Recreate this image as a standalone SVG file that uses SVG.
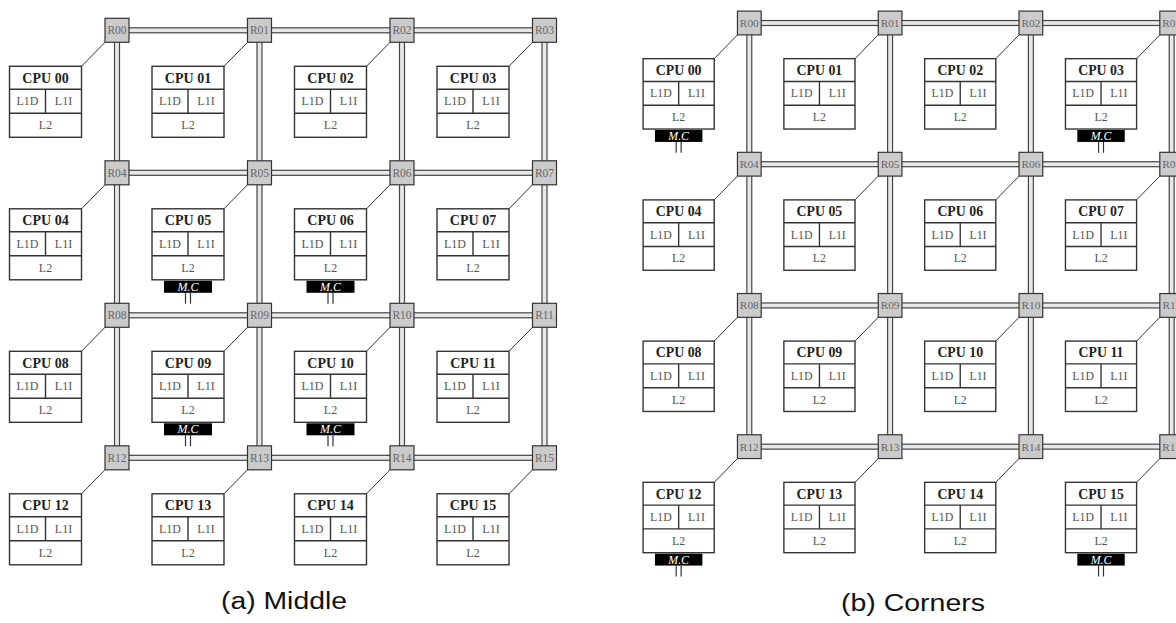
<svg xmlns="http://www.w3.org/2000/svg" width="1176" height="623" viewBox="0 0 1176 623">
<style>
.box{fill:#fff;stroke:#333;stroke-width:1.4}
.div{fill:none;stroke:#333;stroke-width:1.4}
.t{font-family:"Liberation Serif",serif;font-weight:bold;font-size:14px;fill:#222;text-anchor:middle}
.c{font-family:"Liberation Serif",serif;font-size:12px;fill:#555;text-anchor:middle}
.rt{fill:#cbcbcb;stroke:#333;stroke-width:1.2}
.rtt{font-family:"Liberation Serif",serif;font-size:11.5px;fill:#666;text-anchor:middle}
.mc rect{fill:#000}
.mc text{font-family:"Liberation Serif",serif;font-style:italic;font-size:12px;fill:#fff;text-anchor:middle}
.mc path{fill:none;stroke:#333;stroke-width:1.2}
.pipe{fill:#e8e8e8;stroke:#444;stroke-width:1.2}
.link{fill:none;stroke:#333;stroke-width:1}
.cap{font-family:"Liberation Sans",Arial,sans-serif;font-size:23px;fill:#111}
</style>
<rect width="1176" height="623" fill="#fff"/>

<g id="diagram-a">
<g id="a-connectors">
<rect class="pipe" x="117" y="27.8" width="427.5" height="5"/>
<rect class="pipe" x="117" y="170.3" width="427.5" height="5"/>
<rect class="pipe" x="117" y="312.8" width="427.5" height="5"/>
<rect class="pipe" x="117" y="455.3" width="427.5" height="5"/>
<rect class="pipe" x="114.5" y="30.3" width="5" height="427.5"/>
<rect class="pipe" x="257" y="30.3" width="5" height="427.5"/>
<rect class="pipe" x="399.5" y="30.3" width="5" height="427.5"/>
<rect class="pipe" x="542" y="30.3" width="5" height="427.5"/>
<path class="link" d="M81.5 66.3L105 42.3M224 66.3L247.5 42.3M366.5 66.3L390 42.3M509 66.3L532.5 42.3M81.5 208.8L105 184.8M224 208.8L247.5 184.8M366.5 208.8L390 184.8M509 208.8L532.5 184.8M81.5 351.3L105 327.3M224 351.3L247.5 327.3M366.5 351.3L390 327.3M509 351.3L532.5 327.3M81.5 493.8L105 469.8M224 493.8L247.5 469.8M366.5 493.8L390 469.8M509 493.8L532.5 469.8"/>
</g>
<g id="a-r00"><rect class="rt" x="105" y="18.3" width="24" height="24"/><text class="rtt" x="117" y="34.3">R00</text></g>
<g id="a-r01"><rect class="rt" x="247.5" y="18.3" width="24" height="24"/><text class="rtt" x="259.5" y="34.3">R01</text></g>
<g id="a-r02"><rect class="rt" x="390" y="18.3" width="24" height="24"/><text class="rtt" x="402" y="34.3">R02</text></g>
<g id="a-r03"><rect class="rt" x="532.5" y="18.3" width="24" height="24"/><text class="rtt" x="544.5" y="34.3">R03</text></g>
<g id="a-r04"><rect class="rt" x="105" y="160.8" width="24" height="24"/><text class="rtt" x="117" y="176.8">R04</text></g>
<g id="a-r05"><rect class="rt" x="247.5" y="160.8" width="24" height="24"/><text class="rtt" x="259.5" y="176.8">R05</text></g>
<g id="a-r06"><rect class="rt" x="390" y="160.8" width="24" height="24"/><text class="rtt" x="402" y="176.8">R06</text></g>
<g id="a-r07"><rect class="rt" x="532.5" y="160.8" width="24" height="24"/><text class="rtt" x="544.5" y="176.8">R07</text></g>
<g id="a-r08"><rect class="rt" x="105" y="303.3" width="24" height="24"/><text class="rtt" x="117" y="319.3">R08</text></g>
<g id="a-r09"><rect class="rt" x="247.5" y="303.3" width="24" height="24"/><text class="rtt" x="259.5" y="319.3">R09</text></g>
<g id="a-r10"><rect class="rt" x="390" y="303.3" width="24" height="24"/><text class="rtt" x="402" y="319.3">R10</text></g>
<g id="a-r11"><rect class="rt" x="532.5" y="303.3" width="24" height="24"/><text class="rtt" x="544.5" y="319.3">R11</text></g>
<g id="a-r12"><rect class="rt" x="105" y="445.8" width="24" height="24"/><text class="rtt" x="117" y="461.8">R12</text></g>
<g id="a-r13"><rect class="rt" x="247.5" y="445.8" width="24" height="24"/><text class="rtt" x="259.5" y="461.8">R13</text></g>
<g id="a-r14"><rect class="rt" x="390" y="445.8" width="24" height="24"/><text class="rtt" x="402" y="461.8">R14</text></g>
<g id="a-r15"><rect class="rt" x="532.5" y="445.8" width="24" height="24"/><text class="rtt" x="544.5" y="461.8">R15</text></g>

<g id="a-cpu00" transform="translate(9.5,66.3)"><rect class="box" width="72" height="71"/><path class="div" d="M0 23H72M0 47H72M36 23V47"/><text class="t" x="36" y="16.5">CPU 00</text><text class="c" x="18" y="39">L1D</text><text class="c" x="54" y="39">L1I</text><text class="c" x="36" y="63">L2</text></g>
<g id="a-cpu01" transform="translate(152,66.3)"><rect class="box" width="72" height="71"/><path class="div" d="M0 23H72M0 47H72M36 23V47"/><text class="t" x="36" y="16.5">CPU 01</text><text class="c" x="18" y="39">L1D</text><text class="c" x="54" y="39">L1I</text><text class="c" x="36" y="63">L2</text></g>
<g id="a-cpu02" transform="translate(294.5,66.3)"><rect class="box" width="72" height="71"/><path class="div" d="M0 23H72M0 47H72M36 23V47"/><text class="t" x="36" y="16.5">CPU 02</text><text class="c" x="18" y="39">L1D</text><text class="c" x="54" y="39">L1I</text><text class="c" x="36" y="63">L2</text></g>
<g id="a-cpu03" transform="translate(437,66.3)"><rect class="box" width="72" height="71"/><path class="div" d="M0 23H72M0 47H72M36 23V47"/><text class="t" x="36" y="16.5">CPU 03</text><text class="c" x="18" y="39">L1D</text><text class="c" x="54" y="39">L1I</text><text class="c" x="36" y="63">L2</text></g>
<g id="a-cpu04" transform="translate(9.5,208.8)"><rect class="box" width="72" height="71"/><path class="div" d="M0 23H72M0 47H72M36 23V47"/><text class="t" x="36" y="16.5">CPU 04</text><text class="c" x="18" y="39">L1D</text><text class="c" x="54" y="39">L1I</text><text class="c" x="36" y="63">L2</text></g>
<g id="a-cpu05" transform="translate(152,208.8)"><rect class="box" width="72" height="71"/><path class="div" d="M0 23H72M0 47H72M36 23V47"/><text class="t" x="36" y="16.5">CPU 05</text><text class="c" x="18" y="39">L1D</text><text class="c" x="54" y="39">L1I</text><text class="c" x="36" y="63">L2</text><g class="mc"><rect x="12" y="72" width="48" height="12"/><text x="36" y="82">M.C</text><path d="M33.5 84V95M38.5 84V95"/></g></g>
<g id="a-cpu06" transform="translate(294.5,208.8)"><rect class="box" width="72" height="71"/><path class="div" d="M0 23H72M0 47H72M36 23V47"/><text class="t" x="36" y="16.5">CPU 06</text><text class="c" x="18" y="39">L1D</text><text class="c" x="54" y="39">L1I</text><text class="c" x="36" y="63">L2</text><g class="mc"><rect x="12" y="72" width="48" height="12"/><text x="36" y="82">M.C</text><path d="M33.5 84V95M38.5 84V95"/></g></g>
<g id="a-cpu07" transform="translate(437,208.8)"><rect class="box" width="72" height="71"/><path class="div" d="M0 23H72M0 47H72M36 23V47"/><text class="t" x="36" y="16.5">CPU 07</text><text class="c" x="18" y="39">L1D</text><text class="c" x="54" y="39">L1I</text><text class="c" x="36" y="63">L2</text></g>
<g id="a-cpu08" transform="translate(9.5,351.3)"><rect class="box" width="72" height="71"/><path class="div" d="M0 23H72M0 47H72M36 23V47"/><text class="t" x="36" y="16.5">CPU 08</text><text class="c" x="18" y="39">L1D</text><text class="c" x="54" y="39">L1I</text><text class="c" x="36" y="63">L2</text></g>
<g id="a-cpu09" transform="translate(152,351.3)"><rect class="box" width="72" height="71"/><path class="div" d="M0 23H72M0 47H72M36 23V47"/><text class="t" x="36" y="16.5">CPU 09</text><text class="c" x="18" y="39">L1D</text><text class="c" x="54" y="39">L1I</text><text class="c" x="36" y="63">L2</text><g class="mc"><rect x="12" y="72" width="48" height="12"/><text x="36" y="82">M.C</text><path d="M33.5 84V95M38.5 84V95"/></g></g>
<g id="a-cpu10" transform="translate(294.5,351.3)"><rect class="box" width="72" height="71"/><path class="div" d="M0 23H72M0 47H72M36 23V47"/><text class="t" x="36" y="16.5">CPU 10</text><text class="c" x="18" y="39">L1D</text><text class="c" x="54" y="39">L1I</text><text class="c" x="36" y="63">L2</text><g class="mc"><rect x="12" y="72" width="48" height="12"/><text x="36" y="82">M.C</text><path d="M33.5 84V95M38.5 84V95"/></g></g>
<g id="a-cpu11" transform="translate(437,351.3)"><rect class="box" width="72" height="71"/><path class="div" d="M0 23H72M0 47H72M36 23V47"/><text class="t" x="36" y="16.5">CPU 11</text><text class="c" x="18" y="39">L1D</text><text class="c" x="54" y="39">L1I</text><text class="c" x="36" y="63">L2</text></g>
<g id="a-cpu12" transform="translate(9.5,493.8)"><rect class="box" width="72" height="71"/><path class="div" d="M0 23H72M0 47H72M36 23V47"/><text class="t" x="36" y="16.5">CPU 12</text><text class="c" x="18" y="39">L1D</text><text class="c" x="54" y="39">L1I</text><text class="c" x="36" y="63">L2</text></g>
<g id="a-cpu13" transform="translate(152,493.8)"><rect class="box" width="72" height="71"/><path class="div" d="M0 23H72M0 47H72M36 23V47"/><text class="t" x="36" y="16.5">CPU 13</text><text class="c" x="18" y="39">L1D</text><text class="c" x="54" y="39">L1I</text><text class="c" x="36" y="63">L2</text></g>
<g id="a-cpu14" transform="translate(294.5,493.8)"><rect class="box" width="72" height="71"/><path class="div" d="M0 23H72M0 47H72M36 23V47"/><text class="t" x="36" y="16.5">CPU 14</text><text class="c" x="18" y="39">L1D</text><text class="c" x="54" y="39">L1I</text><text class="c" x="36" y="63">L2</text></g>
<g id="a-cpu15" transform="translate(437,493.8)"><rect class="box" width="72" height="71"/><path class="div" d="M0 23H72M0 47H72M36 23V47"/><text class="t" x="36" y="16.5">CPU 15</text><text class="c" x="18" y="39">L1D</text><text class="c" x="54" y="39">L1I</text><text class="c" x="36" y="63">L2</text></g>
<text id="caption-a" class="cap" x="221" y="609" textLength="126" lengthAdjust="spacingAndGlyphs">(a) Middle</text>
</g>

<g id="diagram-b" transform="translate(749.3,23) scale(0.988,0.991) translate(-117,-30.3)">
<g id="b-connectors">
<rect class="pipe" x="117" y="27.8" width="427.5" height="5"/>
<rect class="pipe" x="117" y="170.3" width="427.5" height="5"/>
<rect class="pipe" x="117" y="312.8" width="427.5" height="5"/>
<rect class="pipe" x="117" y="455.3" width="427.5" height="5"/>
<rect class="pipe" x="114.5" y="30.3" width="5" height="427.5"/>
<rect class="pipe" x="257" y="30.3" width="5" height="427.5"/>
<rect class="pipe" x="399.5" y="30.3" width="5" height="427.5"/>
<rect class="pipe" x="542" y="30.3" width="5" height="427.5"/>
<path class="link" d="M81.5 66.3L105 42.3M224 66.3L247.5 42.3M366.5 66.3L390 42.3M509 66.3L532.5 42.3M81.5 208.8L105 184.8M224 208.8L247.5 184.8M366.5 208.8L390 184.8M509 208.8L532.5 184.8M81.5 351.3L105 327.3M224 351.3L247.5 327.3M366.5 351.3L390 327.3M509 351.3L532.5 327.3M81.5 493.8L105 469.8M224 493.8L247.5 469.8M366.5 493.8L390 469.8M509 493.8L532.5 469.8"/>
</g>
<g id="b-r00"><rect class="rt" x="105" y="18.3" width="24" height="24"/><text class="rtt" x="117" y="34.3">R00</text></g>
<g id="b-r01"><rect class="rt" x="247.5" y="18.3" width="24" height="24"/><text class="rtt" x="259.5" y="34.3">R01</text></g>
<g id="b-r02"><rect class="rt" x="390" y="18.3" width="24" height="24"/><text class="rtt" x="402" y="34.3">R02</text></g>
<g id="b-r03"><rect class="rt" x="532.5" y="18.3" width="24" height="24"/><text class="rtt" x="544.5" y="34.3">R03</text></g>
<g id="b-r04"><rect class="rt" x="105" y="160.8" width="24" height="24"/><text class="rtt" x="117" y="176.8">R04</text></g>
<g id="b-r05"><rect class="rt" x="247.5" y="160.8" width="24" height="24"/><text class="rtt" x="259.5" y="176.8">R05</text></g>
<g id="b-r06"><rect class="rt" x="390" y="160.8" width="24" height="24"/><text class="rtt" x="402" y="176.8">R06</text></g>
<g id="b-r07"><rect class="rt" x="532.5" y="160.8" width="24" height="24"/><text class="rtt" x="544.5" y="176.8">R07</text></g>
<g id="b-r08"><rect class="rt" x="105" y="303.3" width="24" height="24"/><text class="rtt" x="117" y="319.3">R08</text></g>
<g id="b-r09"><rect class="rt" x="247.5" y="303.3" width="24" height="24"/><text class="rtt" x="259.5" y="319.3">R09</text></g>
<g id="b-r10"><rect class="rt" x="390" y="303.3" width="24" height="24"/><text class="rtt" x="402" y="319.3">R10</text></g>
<g id="b-r11"><rect class="rt" x="532.5" y="303.3" width="24" height="24"/><text class="rtt" x="544.5" y="319.3">R11</text></g>
<g id="b-r12"><rect class="rt" x="105" y="445.8" width="24" height="24"/><text class="rtt" x="117" y="461.8">R12</text></g>
<g id="b-r13"><rect class="rt" x="247.5" y="445.8" width="24" height="24"/><text class="rtt" x="259.5" y="461.8">R13</text></g>
<g id="b-r14"><rect class="rt" x="390" y="445.8" width="24" height="24"/><text class="rtt" x="402" y="461.8">R14</text></g>
<g id="b-r15"><rect class="rt" x="532.5" y="445.8" width="24" height="24"/><text class="rtt" x="544.5" y="461.8">R15</text></g>

<g id="b-cpu00" transform="translate(9.5,66.3)"><rect class="box" width="72" height="71"/><path class="div" d="M0 23H72M0 47H72M36 23V47"/><text class="t" x="36" y="16.5">CPU 00</text><text class="c" x="18" y="39">L1D</text><text class="c" x="54" y="39">L1I</text><text class="c" x="36" y="63">L2</text><g class="mc"><rect x="12" y="72" width="48" height="12"/><text x="36" y="82">M.C</text><path d="M33.5 84V95M38.5 84V95"/></g></g>
<g id="b-cpu01" transform="translate(152,66.3)"><rect class="box" width="72" height="71"/><path class="div" d="M0 23H72M0 47H72M36 23V47"/><text class="t" x="36" y="16.5">CPU 01</text><text class="c" x="18" y="39">L1D</text><text class="c" x="54" y="39">L1I</text><text class="c" x="36" y="63">L2</text></g>
<g id="b-cpu02" transform="translate(294.5,66.3)"><rect class="box" width="72" height="71"/><path class="div" d="M0 23H72M0 47H72M36 23V47"/><text class="t" x="36" y="16.5">CPU 02</text><text class="c" x="18" y="39">L1D</text><text class="c" x="54" y="39">L1I</text><text class="c" x="36" y="63">L2</text></g>
<g id="b-cpu03" transform="translate(437,66.3)"><rect class="box" width="72" height="71"/><path class="div" d="M0 23H72M0 47H72M36 23V47"/><text class="t" x="36" y="16.5">CPU 03</text><text class="c" x="18" y="39">L1D</text><text class="c" x="54" y="39">L1I</text><text class="c" x="36" y="63">L2</text><g class="mc"><rect x="12" y="72" width="48" height="12"/><text x="36" y="82">M.C</text><path d="M33.5 84V95M38.5 84V95"/></g></g>
<g id="b-cpu04" transform="translate(9.5,208.8)"><rect class="box" width="72" height="71"/><path class="div" d="M0 23H72M0 47H72M36 23V47"/><text class="t" x="36" y="16.5">CPU 04</text><text class="c" x="18" y="39">L1D</text><text class="c" x="54" y="39">L1I</text><text class="c" x="36" y="63">L2</text></g>
<g id="b-cpu05" transform="translate(152,208.8)"><rect class="box" width="72" height="71"/><path class="div" d="M0 23H72M0 47H72M36 23V47"/><text class="t" x="36" y="16.5">CPU 05</text><text class="c" x="18" y="39">L1D</text><text class="c" x="54" y="39">L1I</text><text class="c" x="36" y="63">L2</text></g>
<g id="b-cpu06" transform="translate(294.5,208.8)"><rect class="box" width="72" height="71"/><path class="div" d="M0 23H72M0 47H72M36 23V47"/><text class="t" x="36" y="16.5">CPU 06</text><text class="c" x="18" y="39">L1D</text><text class="c" x="54" y="39">L1I</text><text class="c" x="36" y="63">L2</text></g>
<g id="b-cpu07" transform="translate(437,208.8)"><rect class="box" width="72" height="71"/><path class="div" d="M0 23H72M0 47H72M36 23V47"/><text class="t" x="36" y="16.5">CPU 07</text><text class="c" x="18" y="39">L1D</text><text class="c" x="54" y="39">L1I</text><text class="c" x="36" y="63">L2</text></g>
<g id="b-cpu08" transform="translate(9.5,351.3)"><rect class="box" width="72" height="71"/><path class="div" d="M0 23H72M0 47H72M36 23V47"/><text class="t" x="36" y="16.5">CPU 08</text><text class="c" x="18" y="39">L1D</text><text class="c" x="54" y="39">L1I</text><text class="c" x="36" y="63">L2</text></g>
<g id="b-cpu09" transform="translate(152,351.3)"><rect class="box" width="72" height="71"/><path class="div" d="M0 23H72M0 47H72M36 23V47"/><text class="t" x="36" y="16.5">CPU 09</text><text class="c" x="18" y="39">L1D</text><text class="c" x="54" y="39">L1I</text><text class="c" x="36" y="63">L2</text></g>
<g id="b-cpu10" transform="translate(294.5,351.3)"><rect class="box" width="72" height="71"/><path class="div" d="M0 23H72M0 47H72M36 23V47"/><text class="t" x="36" y="16.5">CPU 10</text><text class="c" x="18" y="39">L1D</text><text class="c" x="54" y="39">L1I</text><text class="c" x="36" y="63">L2</text></g>
<g id="b-cpu11" transform="translate(437,351.3)"><rect class="box" width="72" height="71"/><path class="div" d="M0 23H72M0 47H72M36 23V47"/><text class="t" x="36" y="16.5">CPU 11</text><text class="c" x="18" y="39">L1D</text><text class="c" x="54" y="39">L1I</text><text class="c" x="36" y="63">L2</text></g>
<g id="b-cpu12" transform="translate(9.5,493.8)"><rect class="box" width="72" height="71"/><path class="div" d="M0 23H72M0 47H72M36 23V47"/><text class="t" x="36" y="16.5">CPU 12</text><text class="c" x="18" y="39">L1D</text><text class="c" x="54" y="39">L1I</text><text class="c" x="36" y="63">L2</text><g class="mc"><rect x="12" y="72" width="48" height="12"/><text x="36" y="82">M.C</text><path d="M33.5 84V95M38.5 84V95"/></g></g>
<g id="b-cpu13" transform="translate(152,493.8)"><rect class="box" width="72" height="71"/><path class="div" d="M0 23H72M0 47H72M36 23V47"/><text class="t" x="36" y="16.5">CPU 13</text><text class="c" x="18" y="39">L1D</text><text class="c" x="54" y="39">L1I</text><text class="c" x="36" y="63">L2</text></g>
<g id="b-cpu14" transform="translate(294.5,493.8)"><rect class="box" width="72" height="71"/><path class="div" d="M0 23H72M0 47H72M36 23V47"/><text class="t" x="36" y="16.5">CPU 14</text><text class="c" x="18" y="39">L1D</text><text class="c" x="54" y="39">L1I</text><text class="c" x="36" y="63">L2</text></g>
<g id="b-cpu15" transform="translate(437,493.8)"><rect class="box" width="72" height="71"/><path class="div" d="M0 23H72M0 47H72M36 23V47"/><text class="t" x="36" y="16.5">CPU 15</text><text class="c" x="18" y="39">L1D</text><text class="c" x="54" y="39">L1I</text><text class="c" x="36" y="63">L2</text><g class="mc"><rect x="12" y="72" width="48" height="12"/><text x="36" y="82">M.C</text><path d="M33.5 84V95M38.5 84V95"/></g></g>
</g>
<text id="caption-b" class="cap" x="841" y="611" textLength="144" lengthAdjust="spacingAndGlyphs">(b) Corners</text>
</svg>
